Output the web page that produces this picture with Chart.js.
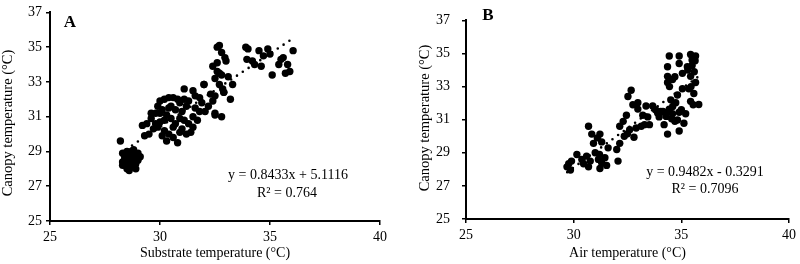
<!DOCTYPE html>
<html>
<head>
<meta charset="utf-8">
<script src="https://cdn.jsdelivr.net/npm/chart.js@4"></script>
<style>
  body { margin: 0; background: #fff; }
  .panel { position: absolute; top: 0; width: 400px; height: 264px; }
</style>
</head>
<body>
<div class="panel" style="left:0"><canvas id="chartA"></canvas></div>
<div class="panel" style="left:400px"><canvas id="chartB"></canvas></div>
<script>
// Panel A - substrate temperature vs canopy temperature
const substrateTemp = [
  28.2, 28.3, 28.4, 28.3, 28.5, 28.4, 28.5, 28.6, 28.7, 28.6, 28.8, 28.9, 28.7, 28.9, 28.5, 28.3, 28.8, 29.0, 28.6, 28.4,
  28.7, 28.8, 29.0, 28.5, 28.8, 28.6, 28.9, 29.1,
  29.2, 29.4, 29.6, 29.5, 29.3, 29.8, 29.9, 30.0, 30.2, 30.4, 30.6, 30.8, 30.9, 30.1, 30.3, 30.5, 30.0, 29.9, 30.2, 30.4,
  30.6, 30.8, 30.3, 30.7, 30.9, 31.0, 31.2, 31.0, 31.2, 31.4, 31.3, 31.5, 31.6, 31.3, 31.6, 30.5, 30.7, 30.2, 29.7, 30.1,
  31.1, 31.5, 30.6, 29.6, 31.8, 31.9, 30.0, 30.4, 31.1, 30.9, 31.7, 29.8,
  31.1, 31.5, 32.0, 32.4, 32.05, 32.5, 32.2, 31.8, 32.5, 32.9, 32.8,
  32.6, 32.7, 32.8, 32.95, 32.4, 32.6, 32.7, 32.5, 32.8, 32.7, 32.9, 32.85, 33.3, 33.0, 32.6, 32.0, 32.3, 33.1, 32.5, 33.2,
  34.0, 33.9, 33.95, 34.2, 34.3, 34.6, 34.5, 34.7, 34.9, 35.0, 35.4, 35.5, 35.6, 35.1, 35.7, 35.9, 35.8, 36.05
];
const canopyA = [
  29.6, 28.9, 28.7, 28.4, 28.5, 28.2, 28.0, 27.9, 28.1, 28.8, 28.6, 28.8, 29.0, 28.3, 28.6, 28.2, 28.7, 28.9, 28.3, 28.6,
  28.4, 29.1, 28.5, 29.0, 28.9, 28.1, 28.0, 28.7,
  30.5, 30.6, 30.9, 30.0, 29.9, 31.2, 31.6, 31.9, 32.0, 32.1, 32.1, 32.0, 31.8, 31.4, 31.1, 30.9, 30.7, 30.4, 30.2, 30.0,
  29.8, 29.5, 29.6, 30.6, 30.9, 31.3, 31.6, 30.3, 30.0, 30.1, 30.6, 31.0, 31.5, 31.9, 32.2, 31.6, 31.4, 30.8, 30.3, 29.9,
  30.8, 30.4, 30.4, 31.2, 31.3, 31.8, 31.2, 31.5, 32.0, 30.1, 30.8, 30.6,
  32.6, 32.5, 32.85, 31.9, 31.3, 31.2, 31.6, 32.1, 31.1, 32.4, 31.0,
  35.0, 35.1, 34.7, 34.4, 33.9, 33.6, 33.5, 33.2, 33.4, 32.85, 32.4, 32.6, 32.85, 34.2, 34.1, 32.85, 32.3, 33.3, 32.2, 32.0,
  34.9, 35.0, 34.3, 34.2, 34.0, 33.9, 34.8, 34.5, 34.9, 34.6, 34.0, 34.3, 34.4, 33.4, 33.5, 33.6, 34.0, 34.8
];
const trendAx = [28.2, 36.1];
const trendAy = [28.9, 35.55];

// Panel B - air temperature vs canopy temperature
const airTemp = [
  29.69, 29.77, 29.85, 29.9, 30.15, 30.38, 30.46, 30.69, 30.77, 31.0, 31.15, 31.22, 31.45, 31.53, 32.06, 31.3, 31.2, 30.6,
  30.69, 30.84, 31.22, 30.92, 31.3, 32.14, 32.14, 32.3, 32.6, 32.5, 32.8, 32.45, 32.98, 32.75, 33.36, 33.44, 33.29, 31.1,
  31.6, 32.0, 32.35, 32.9,
  34.44, 34.9, 34.36, 34.9, 35.43, 35.66, 35.5, 34.36, 34.59, 34.36, 35.05, 35.43, 35.66, 35.35, 35.58, 35.43, 35.81,
  35.05, 34.82, 34.51, 34.74, 34.44, 34.28, 34.59, 34.9, 34.82, 35.2, 34.2, 35.12, 34.36, 34.9, 33.67, 33.21, 33.52,
  33.14, 32.67, 32.52, 32.98, 33.97, 35.28, 35.64, 35.5, 35.6, 34.45, 34.7, 35.3, 35.45, 34.6, 34.05, 33.8, 34.3,
  34.55, 34.15, 33.9, 34.7, 35.0, 35.55
];
const canopyB = [
  28.15, 28.34, 27.96, 28.5, 28.9, 28.6, 28.34, 28.15, 28.5, 29.0, 28.6, 28.05, 28.7, 28.24, 28.5, 28.4, 28.9, 28.8,
  30.6, 30.13, 30.13, 29.57, 29.66, 29.57, 30.6, 30.9, 30.4, 30.15, 29.94, 31.27, 31.64, 31.9, 31.83, 31.17, 30.7, 29.9,
  29.3, 29.2, 30.0, 30.5,
  34.85, 34.85, 34.2, 34.4, 34.94, 34.85, 34.28, 33.62, 33.43, 33.25, 33.8, 33.62, 33.25, 32.87, 32.58, 32.11, 31.92,
  32.87, 32.49, 32.2, 32.02, 31.64, 31.36, 31.36, 31.45, 30.98, 31.36, 30.7, 30.79, 30.13, 30.32, 31.83, 31.27, 30.7,
  30.6, 32.78, 32.4, 32.02, 31.17, 34.2, 34.56, 34.6, 33.9, 33.0, 33.6, 34.0, 33.0, 31.8, 31.5, 31.6, 31.2,
  31.05, 31.5, 31.4, 30.9, 31.6, 31.9
];
const trendBx = [29.7, 35.9];
const trendBy = [27.83, 33.71];

const yTicks = [25, 27, 29, 31, 33, 35, 37];
const xTicks = [25, 30, 35, 40];

const serif = "'Liberation Serif', 'Times New Roman', serif";
Chart.defaults.font.family = serif;
Chart.defaults.color = '#000';

function toPoints(xs, ys) {
  return xs.map((x, i) => ({ x: x, y: ys[i] }));
}

// plain text labels: panel letter, y title and the regression equation
const textPlugin = {
  id: 'panelText',
  afterDraw(chart, args, opts) {
    const ctx = chart.ctx;
    ctx.save();
    ctx.fillStyle = '#000';
    ctx.textBaseline = 'middle';
    ctx.textAlign = 'center';
    opts.items.forEach(t => {
      ctx.save();
      ctx.font = t.font;
      ctx.translate(t.x, t.y);
      if (t.rotate) ctx.rotate(-Math.PI / 2);
      ctx.fillText(t.text, 0, 0);
      ctx.restore();
    });
    ctx.restore();
  }
};

function makeChart(id, xs, ys, tx, ty, xTitle, cfg) {
  return new Chart(document.getElementById(id), {
    type: 'scatter',
    data: {
      datasets: [{
        data: toPoints(xs, ys),
        backgroundColor: '#000',
        borderWidth: 0,
        pointRadius: 3.7
      }, {
        type: 'line',
        data: toPoints(tx, ty),
        borderColor: '#000',
        borderWidth: 2.6,
        borderDash: [0, 7],
        borderCapStyle: 'round',
        pointRadius: 0,
        fill: false
      }]
    },
    options: {
      responsive: true,
      maintainAspectRatio: false,
      animation: false,
      layout: { padding: cfg.padding },
      plugins: {
        legend: { display: false },
        tooltip: { enabled: false },
        panelText: { items: cfg.texts }
      },
      scales: {
        x: {
          type: 'linear',
          min: 25, max: 40,
          afterBuildTicks: s => { s.ticks = xTicks.map(v => ({ value: v })); },
          afterFit: s => { s.height = cfg.xHeight; },
          ticks: { font: { size: 14 }, padding: 4 },
          grid: { drawOnChartArea: false, tickLength: 4, color: '#000', lineWidth: 1.5 },
          border: { color: '#000', width: 2 },
          title: { display: true, text: xTitle, font: { size: 14 }, padding: { top: 0, bottom: 2 } }
        },
        y: {
          type: 'linear',
          min: 25, max: 37,
          afterBuildTicks: s => { s.ticks = yTicks.map(v => ({ value: v })); },
          afterFit: s => { s.width = cfg.yWidth; },
          ticks: { font: { size: 14 }, padding: cfg.yTickPad },
          grid: { drawOnChartArea: false, tickLength: 4, color: '#000', lineWidth: 1.5 },
          border: { color: '#000', width: 2 }
        }
      }
    },
    plugins: [textPlugin]
  });
}

makeChart('chartA', substrateTemp, canopyA, trendAx, trendAy, 'Substrate temperature (°C)', {
  padding: { top: 10, right: 20, left: 0, bottom: 0 },
  xHeight: 43, yWidth: 50, yTickPad: 4,
  texts: [
    { text: 'Canopy temperature (°C)', x: 8, y: 123, font: "14.5px " + serif, rotate: true },
    { text: 'A', x: 70, y: 23, font: "bold 17px " + serif },
    { text: 'y = 0.8433x + 5.1116', x: 288, y: 175, font: "14px " + serif },
    { text: 'R² = 0.764', x: 287, y: 193, font: "14px " + serif }
  ]
});

makeChart('chartB', airTemp, canopyB, trendBx, trendBy, 'Air temperature (°C)', {
  padding: { top: 7, right: 7, left: 0, bottom: 0 },
  xHeight: 45, yWidth: 66, yTickPad: 12,
  texts: [
    { text: 'Canopy temperature (°C)', x: 25, y: 118, font: "14.5px " + serif, rotate: true },
    { text: 'B', x: 88, y: 16, font: "bold 17px " + serif },
    { text: 'y = 0.9482x - 0.3291', x: 305, y: 172, font: "14px " + serif },
    { text: 'R² = 0.7096', x: 305, y: 189, font: "14px " + serif }
  ]
});
</script>
</body>
</html>
